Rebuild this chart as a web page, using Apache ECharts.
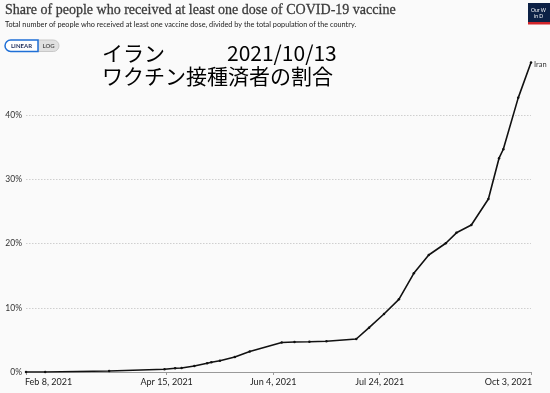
<!DOCTYPE html>
<html>
<head>
<meta charset="utf-8">
<script src="https://cdn.jsdelivr.net/npm/echarts@6/dist/echarts.min.js"></script>
<style>
html,body{margin:0;padding:0;background:#fafafa;}
#chart{width:550px;height:393px;}
</style>
</head>
<body>
<div id="chart"></div>
<script>
// ---- data ----
var dates = ['2021-02-08','2021-02-17','2021-03-19','2021-04-14','2021-04-19','2021-04-22','2021-04-28','2021-05-04','2021-05-06','2021-05-10','2021-05-17','2021-05-24','2021-06-08','2021-06-14','2021-06-21','2021-06-29','2021-07-13','2021-07-19','2021-07-26','2021-08-02','2021-08-09','2021-08-16','2021-08-24','2021-08-29','2021-09-05','2021-09-13','2021-09-18','2021-09-20','2021-09-27','2021-10-03'];
var values = [0.0,0.01,0.16,0.42,0.58,0.62,0.93,1.36,1.51,1.76,2.34,3.19,4.6,4.67,4.72,4.78,5.14,6.9,9.03,11.32,15.37,18.22,20.05,21.68,22.9,26.95,33.3,34.7,42.7,48.2];
var xTickDates = ['2021-02-08','2021-04-15','2021-06-04','2021-07-24','2021-10-03'];
var yTicks = [0,10,20,30,40];
var seriesName = 'Iran';
var titleText = 'Share of people who received at least one dose of COVID-19 vaccine';
var subtitleText = 'Total number of people who received at least one vaccine dose, divided by the total population of the country.';
var noteLine1a = 'イラン';
var noteLine1b = '2021/10/13';
var noteLine2 = 'ワクチン接種済者の割合';

function ts(s){var p=s.split('-');return Date.UTC(+p[0],+p[1]-1,+p[2]);}
var MONTHS=['Jan','Feb','Mar','Apr','May','Jun','Jul','Aug','Sep','Oct','Nov','Dec'];
function fmtDate(v){var d=new Date(v);return MONTHS[d.getUTCMonth()]+' '+d.getUTCDate()+', '+d.getUTCFullYear();}

var seriesData = dates.map(function(d,i){return [ts(d), values[i]];});
var xTicks = xTickDates.map(ts);
var xMin = ts(dates[0]), xMax = ts(dates[dates.length-1]);

var chart = echarts.init(document.getElementById('chart'), null, {renderer:'canvas'});
var option = {
  backgroundColor:'#fafafa',
  animation:false,
  grid:{left:26,right:19,top:51,bottom:21,containLabel:false},
  xAxis:{
    type:'value',
    min:xMin,
    max:xMax,
    axisLine:{show:true,lineStyle:{color:'#999',width:1}},
    axisTick:{show:true,customValues:xTicks,length:3,lineStyle:{color:'#999'}},
    axisLabel:{customValues:xTicks,fontFamily:'Lato',fontSize:9,color:'#222',margin:6,
      formatter:function(v){
        var s=fmtDate(v);
        if(v===xMin) return '{l|'+s+'}';
        if(v===xMax) return '{r|'+s+'}';
        return s;
      },
      rich:{
        l:{fontFamily:'Lato',fontSize:9,color:'#222',padding:[0,0,0,45]},
        r:{fontFamily:'Lato',fontSize:9,color:'#222',padding:[0,45,0,0]}
      }
    },
    splitLine:{show:false}
  },
  yAxis:{
    type:'value',
    min:0,max:50,interval:10,
    axisLine:{show:false},axisTick:{show:false},
    splitLine:{show:false},
    axisLabel:{fontFamily:'Lato',fontSize:8.5,color:'#333',margin:4,
      formatter:function(v){return yTicks.indexOf(v)>=0? v+'%':'';}}
  },
  series:[{
    name:seriesName,
    type:'line',
    data:seriesData,
    symbol:'circle',symbolSize:2.5,showSymbol:true,
    itemStyle:{color:'#111'},
    lineStyle:{color:'#111',width:1.6},
    endLabel:{show:true,formatter:seriesName,fontFamily:'Lato',fontSize:7.5,color:'#333',distance:3,offset:[0,2]},
    markLine:{
      silent:true,symbol:'none',label:{show:false},
      lineStyle:{color:'#cfcfcf',type:[1.5,1.5],width:1},
      data:yTicks.filter(function(v){return v>0;}).map(function(v){return {yAxis:v};})
    },
    z:5
  }],
  graphic:[
    {type:'text',x:5,y:2,scaleX:0.905,style:{text:titleText,font:'15.5px "Liberation Serif"',fill:'#3a3a3a',stroke:'#3a3a3a',lineWidth:0.3}},
    {type:'text',x:5,y:21,style:{text:subtitleText,font:'7.3px Lato',fill:'#222'}},
    {type:'rect',shape:{x:38,y:40,width:21,height:11.5,r:[0,5.75,5.75,0]},style:{fill:'#e0e0e0',stroke:'#c8c8c8',lineWidth:1}},
    {type:'rect',shape:{x:5,y:40,width:33,height:11.5,r:[5.75,0,0,5.75]},style:{fill:'#fff',stroke:'#1f6fd6',lineWidth:1.5}},
    {type:'text',x:21.5,y:45.8,style:{text:'LINEAR',font:'bold 6px Lato',fill:'#1b2a5a',align:'center',verticalAlign:'middle'}},
    {type:'text',x:48.5,y:45.8,style:{text:'LOG',font:'bold 6px Lato',fill:'#555',align:'center',verticalAlign:'middle'}},
    {type:'text',x:102,y:53.5,style:{text:noteLine1a,font:'21px "Noto Sans CJK JP"',fill:'#000',verticalAlign:'middle'}},
    {type:'text',x:227,y:53.5,style:{text:noteLine1b,font:'21px "Noto Sans CJK JP"',fill:'#000',verticalAlign:'middle'}},
    {type:'text',x:102,y:76,style:{text:noteLine2,font:'21px "Noto Sans CJK JP"',fill:'#000',verticalAlign:'middle'}},
    {type:'rect',shape:{x:528,y:3,width:24,height:20},style:{fill:'#0c2145'}},
    {type:'rect',shape:{x:528,y:22,width:24,height:2.5},style:{fill:'#d1242a'}},
    {type:'text',x:531,y:8,style:{text:'Our W',font:'5px Lato',fill:'#fff'}},
    {type:'text',x:534,y:14,style:{text:'in D',font:'5px Lato',fill:'#fff'}}
  ]
};
chart.setOption(option);
</script>
</body>
</html>
